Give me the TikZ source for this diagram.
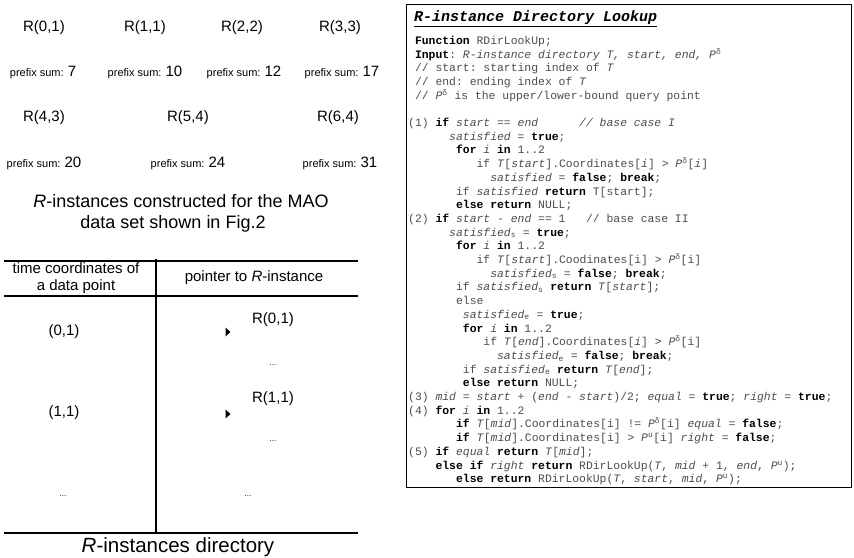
\documentclass[tikz,border=0pt]{standalone}
\usepackage{fontspec}
\setmainfont{Liberation Sans}
\setmonofont{Liberation Mono}
\definecolor{codegray}{gray}{0.30}
\newcommand{\kwd}[1]{{\color{black}\bfseries #1}}
\newcommand{\iv}[1]{\textit{#1}}
\newcommand{\gapc}[1]{\hspace*{#1\dimexpr 6.84pt\relax}}
\newcommand{\psz}[1]{{\fontsize{11}{13}\selectfont prefix sum: }{\fontsize{15}{18}\selectfont #1}}
\begin{document}
\begin{tikzpicture}[x=1pt,y=-1pt,
  rlab/.style={font=\fontsize{15}{18}\selectfont, inner sep=0pt},
  psum/.style={inner sep=0pt},
  capt/.style={font=\fontsize{18}{23}\selectfont, inner sep=0pt, align=center},
  cell/.style={font=\fontsize{15}{17}\selectfont, inner sep=0pt, align=center},
  dotsm/.style={font=\fontsize{8}{9}\selectfont, inner sep=0pt},
  codeln/.style={anchor=base west, inner sep=0pt, font=\ttfamily\fontsize{11.4}{13.7}\selectfont, text=codegray},
  rule/.style={line width=1.1pt},
  ptr/.style={fill=black}
]
\useasboundingbox (0,0) rectangle (854,557);
% ---------- R-instances ----------
\node[rlab] (r01) at (44,28) {R(0,1)};
\node[rlab] (r11) at (145,28) {R(1,1)};
\node[rlab] (r22) at (242,28) {R(2,2)};
\node[rlab] (r33) at (340,28) {R(3,3)};
\node[psum] (s7)  at (43,72)  {\psz{7}};
\node[psum] (s10) at (145,72) {\psz{10}};
\node[psum] (s12) at (244,72) {\psz{12}};
\node[psum] (s17) at (342,72) {\psz{17}};
\node[rlab] (r43) at (44,118)  {R(4,3)};
\node[rlab] (r54) at (188,118) {R(5,4)};
\node[rlab] (r64) at (338,118) {R(6,4)};
\node[psum] (s20) at (44,163)  {\psz{20}};
\node[psum] (s24) at (188,163) {\psz{24}};
\node[psum] (s31) at (340,163) {\psz{31}};
\node[capt] (cap1a) at (181,201) {\textit{R}-instances constructed for the MAO};
\node[capt] (cap1b) at (173,224) {data set shown in Fig.2};
% ---------- directory table ----------
\coordinate (tl) at (4,261);   \coordinate (tr) at (358,261);
\coordinate (hl) at (4,296);   \coordinate (hr) at (358,296);
\coordinate (bl) at (4,533);   \coordinate (br) at (358,533);
\coordinate (vt) at (156,259); \coordinate (vb) at (156,533);
\draw[rule] (tl) -- (tr);
\draw[rule] (hl) -- (hr);
\draw[rule] (bl) -- (br);
\draw[rule] (vt) -- (vb);
\node[cell] (h1) at (76,278) {time coordinates of\\a data point};
\node[cell] (h2) at (254,278) {pointer to \textit{R}-instance};
\node[cell] (c01) at (64,332) {(0,1)};
\node[cell] (d01) at (273,320) {R(0,1)};
\node[dotsm] (e01) at (273,365) {...};
\node[cell] (c11) at (64,413) {(1,1)};
\node[cell] (d11) at (273,399) {R(1,1)};
\node[dotsm] (e11) at (273,441) {...};
\node[dotsm] (cdots) at (63,496) {...};
\node[dotsm] (ddots) at (248,496) {...};
\fill[ptr] (225.5,327.5) -- (230.5,332) -- (225.5,336.5) -- cycle;
\fill[ptr] (225.5,409.5) -- (230.5,414) -- (225.5,418.5) -- cycle;
\node[capt, font=\fontsize{20.5}{24}\selectfont] (cap2) at (178,547) {\textit{R}-instances directory};
% ---------- code box ----------
\draw[line width=1pt] (406,4) rectangle (851,487);
\node[anchor=base west, inner sep=0pt, font=\ttfamily\fontsize{15}{18}\selectfont\bfseries\itshape] (title) at (414,21.5) {\underline{R-instance Directory Lookup}};
\newcommand{\cdl}[3]{\node[codeln] (l#1) at ({408+#2*6.84},{44.3+(#1-1)*13.7}) {#3};}
\cdl{1}{1}{\kwd{Function} RDirLookUp;}
\cdl{2}{1}{\kwd{Input}: \iv{R-instance directory T, start, end, P}\textsuperscript{δ}}
\cdl{3}{1}{// start: starting index of \iv{T}}
\cdl{4}{1}{// end: ending index of \iv{T}}
\cdl{5}{1}{// \iv{P}\textsuperscript{δ} is the upper/lower-bound query point}
\cdl{7}{0}{(1) \kwd{if} \iv{start} == \iv{end}\gapc{6}\iv{// base case I}}
\cdl{8}{6}{\iv{satisfied} = \kwd{true};}
\cdl{9}{7}{\kwd{for} \iv{i} \kwd{in} 1..2}
\cdl{10}{10}{if \iv{T}[\iv{start}].Coordinates[\iv{i}] > \iv{P}\textsuperscript{δ}[\iv{i}]}
\cdl{11}{12}{\iv{satisfied} = \kwd{false}; \kwd{break};}
\cdl{12}{7}{if \iv{satisfied} \kwd{return} T[start];}
\cdl{13}{7}{\kwd{else return} NULL;}
\cdl{14}{0}{(2) \kwd{if} \iv{start} - \iv{end} == 1\gapc{3}// base case II}
\cdl{15}{6}{\iv{satisfied}\textsubscript{s} = \kwd{true};}
\cdl{16}{7}{\kwd{for} \iv{i} \kwd{in} 1..2}
\cdl{17}{10}{if \iv{T}[\iv{start}].Coodinates[i] > \iv{P}\textsuperscript{δ}[i]}
\cdl{18}{12}{\iv{satisfied}\textsubscript{s} = \kwd{false}; \kwd{break};}
\cdl{19}{7}{if \iv{satisfied}\textsubscript{s} \kwd{return} \iv{T}[\iv{start}];}
\cdl{20}{7}{else}
\cdl{21}{8}{\iv{satisfied}\textsubscript{e} = \kwd{true};}
\cdl{22}{8}{\kwd{for} \iv{i} \kwd{in} 1..2}
\cdl{23}{11}{if \iv{T}[\iv{end}].Coordinates[\iv{i}] > \iv{P}\textsuperscript{δ}[i]}
\cdl{24}{13}{\iv{satisfied}\textsubscript{e} = \kwd{false}; \kwd{break};}
\cdl{25}{8}{if \iv{satisfied}\textsubscript{e} \kwd{return} \iv{T}[\iv{end}];}
\cdl{26}{8}{\kwd{else return} NULL;}
\cdl{27}{0}{(3) \iv{mid} = \iv{start} + (\iv{end} - \iv{start})/2; \iv{equal} = \kwd{true}; \iv{right} = \kwd{true};}
\cdl{28}{0}{(4) \kwd{for} \iv{i} \kwd{in} 1..2}
\cdl{29}{7}{\kwd{if} \iv{T}[\iv{mid}].Coordinates[i] != \iv{P}\textsuperscript{δ}[i] \iv{equal} = \kwd{false};}
\cdl{30}{7}{\kwd{if} \iv{T}[\iv{mid}].Coordinates[i] > \iv{P}\textsuperscript{u}[i] \iv{right} = \kwd{false};}
\cdl{31}{0}{(5) \kwd{if} \iv{equal} \kwd{return} \iv{T}[\iv{mid}];}
\cdl{32}{4}{\kwd{else if} \iv{right} \kwd{return} RDirLookUp(\iv{T}, \iv{mid} + 1, \iv{end}, \iv{P}\textsuperscript{u});}
\cdl{33}{7}{\kwd{else return} RDirLookUp(\iv{T}, \iv{start}, \iv{mid}, \iv{P}\textsuperscript{u});}
\end{tikzpicture}
\end{document}
